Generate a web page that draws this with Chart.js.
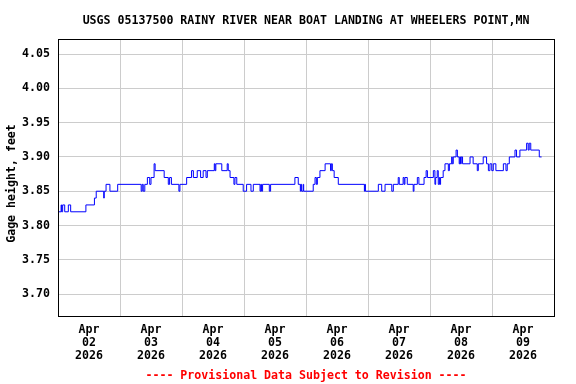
<!DOCTYPE html>
<html>
<head>
<meta charset="utf-8">
<title>USGS 05137500 gage height</title>
<script src="https://cdn.jsdelivr.net/npm/chart.js@4.4.1/dist/chart.umd.min.js"></script>
<style>
  html, body { margin: 0; padding: 0; background: #fff; }
  #chart { display: block; }
</style>
</head>
<body>
<canvas id="chart" width="576" height="384"></canvas>
<script>
// hours after Apr 02 2026 00:00 where the reading changes, and the new reading (feet)
const changeHours = [
  0, 1.2, 1.4, 1.8, 2.6, 4.0, 4.9, 10.8, 14.1, 14.8, 17.7, 17.9, 18.6, 20.1, 23.1,
  32.2, 32.6, 33.0, 33.6, 34.6, 35.5, 36.0, 37.2, 37.6, 41.1, 42.7, 43.2, 43.9, 46.8, 47.2,
  49.8, 51.7, 52.4, 53.9, 55.2, 56.2, 57.3, 57.8, 60.5, 60.8, 61.1, 63.4, 65.5, 65.9, 66.6,
  68.1, 68.5, 69.2, 71.7, 73.0, 74.7, 75.6, 78.2, 78.5, 78.8, 79.2, 81.8, 82.3,
  91.7, 93.0, 93.8, 94.0, 94.3, 94.9, 95.1, 98.8, 99.5, 100.0, 100.4, 101.4, 103.4, 105.5,
  105.8, 106.2, 106.9, 108.5, 118.6, 118.8, 119.0, 124.0, 125.3, 126.6, 129.2, 129.8,
  131.7, 132.1, 133.6, 134.0, 134.3, 135.2, 137.5, 137.8, 139.1, 139.7, 141.7, 142.5, 143.0,
  145.3, 145.9, 146.2, 146.8, 147.2, 147.6, 147.8, 148.1, 149.1, 149.8, 151.1, 151.5,
  152.4, 152.6, 153.0, 154.1, 154.6, 155.3, 155.6, 155.8, 156.1, 156.6, 159.5, 160.7,
  162.3, 162.7, 164.6, 165.9, 166.6, 167.2, 167.9, 168.5, 169.5, 172.4, 173.4, 173.9,
  174.7, 176.9, 177.5, 178.8, 181.4, 182.0, 182.4, 183.0, 186.3, 187.2
];
const gageValues = [
  3.82, 3.83, 3.82, 3.83, 3.82, 3.83, 3.82, 3.83, 3.84, 3.85, 3.84, 3.85, 3.86, 3.85, 3.86,
  3.85, 3.86, 3.85, 3.86, 3.87, 3.86, 3.87, 3.89, 3.88, 3.87, 3.86, 3.87, 3.86, 3.85, 3.86,
  3.87, 3.88, 3.87, 3.88, 3.87, 3.88, 3.87, 3.88, 3.89, 3.88, 3.89, 3.88, 3.89, 3.88, 3.87,
  3.86, 3.87, 3.86, 3.85, 3.86, 3.85, 3.86, 3.85, 3.86, 3.85, 3.86, 3.85, 3.86,
  3.87, 3.86, 3.85, 3.86, 3.85, 3.86, 3.85, 3.86, 3.87, 3.86, 3.87, 3.88, 3.89, 3.88,
  3.89, 3.88, 3.87, 3.86, 3.85, 3.86, 3.85, 3.86, 3.85, 3.86, 3.85, 3.86,
  3.87, 3.86, 3.87, 3.86, 3.87, 3.86, 3.85, 3.86, 3.87, 3.86, 3.87, 3.88, 3.87,
  3.88, 3.86, 3.87, 3.88, 3.86, 3.87, 3.86, 3.87, 3.88, 3.89, 3.88, 3.89,
  3.90, 3.89, 3.90, 3.91, 3.90, 3.89, 3.90, 3.89, 3.90, 3.89, 3.90, 3.89,
  3.88, 3.89, 3.90, 3.89, 3.88, 3.89, 3.88, 3.89, 3.88, 3.89, 3.88, 3.89,
  3.90, 3.91, 3.90, 3.91, 3.92, 3.91, 3.92, 3.91, 3.90, 3.90
];
const dayLabels = ["02", "03", "04", "05", "06", "07", "08", "09"];
const yTicks = [3.70, 3.75, 3.80, 3.85, 3.90, 3.95, 4.00, 4.05];
const xTicks = [12, 24, 36, 48, 60, 72, 84, 96, 108, 120, 132, 144, 156, 168, 180];

const titleText = "USGS 05137500 RAINY RIVER NEAR BOAT LANDING AT WHEELERS POINT,MN";
const footerText = "---- Provisional Data Subject to Revision ----";
const yTitleText = "Gage height, feet";

const FONT_FAMILY = "'DejaVu Sans Mono', 'Liberation Mono', monospace";
const monoFont = { family: FONT_FAMILY, size: 11.6, weight: "bold", lineHeight: 1.13 };
const GRID = "#cccccc";

const points = changeHours.map((h, i) => ({ x: h, y: gageValues[i] }));

// title, footer, y title and the black frame round the plot
const decorations = {
  id: "decorations",
  afterDraw(chart) {
    const { ctx, chartArea } = chart;
    const cx = (chartArea.left + chartArea.right) / 2;
    ctx.save();
    ctx.strokeStyle = "#000";
    ctx.lineWidth = 1;
    ctx.strokeRect(chartArea.left + 0.5, chartArea.top + 0.5,
      chartArea.right - chartArea.left, chartArea.bottom - chartArea.top);

    ctx.font = "bold 11.6px " + FONT_FAMILY;
    ctx.textAlign = "center";
    ctx.textBaseline = "middle";
    ctx.fillStyle = "#000";
    ctx.fillText(titleText, cx, 20.5);

    ctx.fillStyle = "#ff0000";
    ctx.fillText(footerText, cx, 375.5);

    ctx.fillStyle = "#000";
    ctx.translate(11.5, 183.5);
    ctx.rotate(-Math.PI / 2);
    ctx.fillText(yTitleText, 0, 0);
    ctx.restore();
  }
};

new Chart(document.getElementById("chart"), {
  type: "line",
  data: {
    datasets: [{
      data: points,
      stepped: true,
      borderColor: "#0000ff",
      borderWidth: 1,
      pointRadius: 0,
      fill: false
    }]
  },
  options: {
    responsive: false,
    animation: false,
    layout: { padding: { top: 39, right: 22, left: 0, bottom: 0 } },
    plugins: {
      legend: { display: false },
      tooltip: { enabled: false }
    },
    scales: {
      x: {
        type: "linear",
        min: 0,
        max: 192,
        afterBuildTicks: axis => { axis.ticks = xTicks.map(v => ({ value: v })); },
        afterFit: axis => { axis.height = 68; },
        grid: {
          color: ctx => (ctx.tick && ctx.tick.value % 24 === 0) ? GRID : "rgba(0,0,0,0)",
          drawTicks: false
        },
        border: { display: false },
        ticks: {
          autoSkip: false,
          maxRotation: 0,
          padding: 7,
          color: "#000",
          font: monoFont,
          callback: v => v % 24 === 12 ? ["Apr", dayLabels[(v - 12) / 24], "2026"] : ""
        }
      },
      y: {
        min: 3.668,
        max: 4.072,
        afterBuildTicks: axis => { axis.ticks = yTicks.map(v => ({ value: v })); },
        afterFit: axis => { axis.width = 58; },
        grid: { color: GRID, drawTicks: false },
        border: { display: false },
        ticks: {
          padding: 8,
          color: "#000",
          font: monoFont,
          callback: v => v.toFixed(2)
        }
      }
    }
  },
  plugins: [decorations]
});
</script>
</body>
</html>
